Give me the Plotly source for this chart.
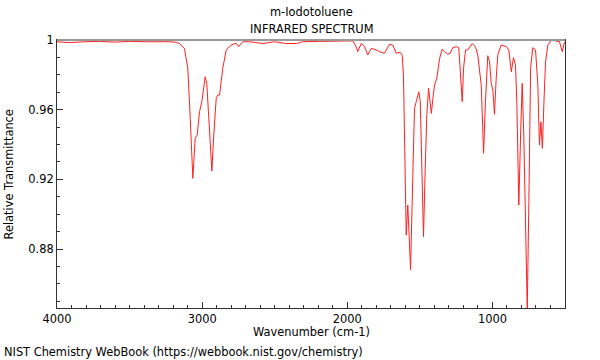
import plotly.graph_objects as go

wavenumber = [4000, 3914, 3811, 3707, 3604, 3500, 3397, 3294, 3225, 3190, 3156, 3122, 3099, 3082,
              3064, 3048, 3034, 3018, 3002, 2979, 2968, 2954, 2933, 2920, 2903, 2892, 2880, 2858,
              2834, 2800, 2765, 2749, 2720, 2674, 2582, 2501, 2426, 2350, 2309, 2191, 2054, 1962,
              1939, 1928, 1904, 1881, 1859, 1835, 1801, 1778, 1744, 1709, 1686, 1663, 1635, 1622,
              1613, 1606, 1594, 1583, 1576, 1564, 1553, 1544, 1537, 1525, 1507, 1497, 1488, 1475,
              1463, 1452, 1440, 1431, 1421, 1410, 1399, 1383, 1364, 1346, 1330, 1307, 1291, 1273,
              1249, 1232, 1222, 1208, 1199, 1185, 1170, 1139, 1117, 1101, 1077, 1061, 1048, 1032,
              1020, 1008, 997, 986, 974, 963, 940, 905, 887, 870, 855, 841, 832, 818, 806, 795,
              784, 772, 760, 749, 737, 722, 703, 687, 676, 666, 656, 645, 634, 618, 594, 560,
              538, 519, 503]
transmittance = [0.9990, 0.9985, 0.9990, 0.9992, 0.9988, 0.9992, 0.9990, 0.9992, 0.9990, 0.9988,
                 0.9980, 0.9950, 0.9840, 0.9550, 0.9206, 0.9436, 0.9455, 0.9589, 0.9646, 0.9789,
                 0.9750, 0.9550, 0.9248, 0.9455, 0.9665, 0.9684, 0.9684, 0.9838, 0.9943, 0.9971,
                 0.9981, 0.9962, 0.9990, 0.9990, 0.9980, 0.9990, 0.9980, 0.9980, 0.9990, 0.9992,
                 0.9995, 0.9995, 0.9962, 0.9933, 0.9980, 0.9962, 0.9914, 0.9952, 0.9943, 0.9933,
                 0.9924, 0.9975, 0.9971, 0.9924, 0.9929, 0.9914, 0.9799, 0.9455, 0.8880, 0.9053,
                 0.8920, 0.8680, 0.9072, 0.9455, 0.9608, 0.9646, 0.9703, 0.9646, 0.9360, 0.8871,
                 0.9263, 0.9570, 0.9723, 0.9665, 0.9579, 0.9665, 0.9742, 0.9780, 0.9895, 0.9948,
                 0.9933, 0.9918, 0.9924, 0.9956, 0.9962, 0.9956, 0.9838, 0.9646, 0.9838, 0.9943,
                 0.9943, 0.9980, 0.9962, 0.9914, 0.9740, 0.9350, 0.9646, 0.9910, 0.9876, 0.9751,
                 0.9713, 0.9574, 0.9780, 0.9914, 0.9971, 0.9962, 0.9943, 0.9818, 0.9899, 0.9857,
                 0.9646, 0.9053, 0.9455, 0.9751, 0.9455, 0.8880, 0.8455, 0.9072, 0.9838, 0.9956,
                 0.9943, 0.9740, 0.9397, 0.9531, 0.9378, 0.9646, 0.9876, 0.9971, 1.0000, 0.9994,
                 0.9990, 0.9933, 0.9990]

x_tick_vals = [4000, 3000, 2000, 1000]
x_tick_text = ["4000", "3000", "2000", "1000"]
y_tick_vals = [1.0, 0.96, 0.92, 0.88]
y_tick_text = ["1", "0.96", "0.92", "0.88"]

FONT = "DejaVu Sans"
FS = 11.4
AX = "#333333"

fig = go.Figure()
fig.add_trace(go.Scatter(x=wavenumber, y=transmittance, mode="lines",
                         line=dict(color="#ff2020", width=1), showlegend=False,
                         hoverinfo="skip"))

fig.update_layout(
    width=600, height=360,
    margin=dict(l=57, r=35, t=40, b=52),
    paper_bgcolor="white", plot_bgcolor="white",
    font=dict(family=FONT, size=FS, color="#000000"),
    xaxis=dict(range=[4000, 500], showgrid=False, zeroline=False,
               showline=True, linecolor=AX, linewidth=1, mirror=True,
               tickvals=x_tick_vals, ticktext=x_tick_text, ticks="inside",
               ticklen=6, tickcolor=AX, tickfont=dict(size=FS, family=FONT),
               minor=dict(dtick=100, ticks="inside", ticklen=3, tickcolor=AX)),
    yaxis=dict(range=[0.8462, 1.0], showgrid=False, zeroline=False,
               showline=True, linecolor=AX, linewidth=1, mirror=True,
               tickvals=y_tick_vals, ticktext=y_tick_text, ticks="inside",
               ticklen=6, tickcolor=AX, tickfont=dict(size=FS, family=FONT),
               minor=dict(dtick=0.01, tick0=1.0, ticks="inside", ticklen=3, tickcolor=AX)),
    shapes=[dict(type="line", xref="paper", yref="paper", x0=0, x1=1, y0=1, y1=1,
                 line=dict(color="#999999", width=2))],
    annotations=[
        dict(text="m-Iodotoluene", xref="paper", yref="paper", x=0.5, y=1.1045,
             xanchor="center", yanchor="middle", showarrow=False, font=dict(size=FS)),
        dict(text="INFRARED SPECTRUM", xref="paper", yref="paper", x=0.5, y=1.041,
             xanchor="center", yanchor="middle", showarrow=False, font=dict(size=FS)),
        dict(text="Wavenumber (cm-1)", xref="paper", yref="paper", x=0.5, y=-0.0896,
             xanchor="center", yanchor="middle", showarrow=False, font=dict(size=FS)),
        dict(text="Relative Transmittance", xref="paper", yref="paper", x=-0.0936, y=0.5,
             xanchor="center", yanchor="middle", textangle=-90, showarrow=False,
             font=dict(size=FS)),
        dict(text="NIST Chemistry WebBook (https://webbook.nist.gov/chemistry)",
             xref="paper", yref="paper", x=-0.1074, y=-0.164,
             xanchor="left", yanchor="middle", showarrow=False, font=dict(size=FS)),
    ],
)

fig.write_html("out.html", config={"displayModeBar": False},
               post_script="document.body.style.margin='0';document.body.style.padding='0';")
